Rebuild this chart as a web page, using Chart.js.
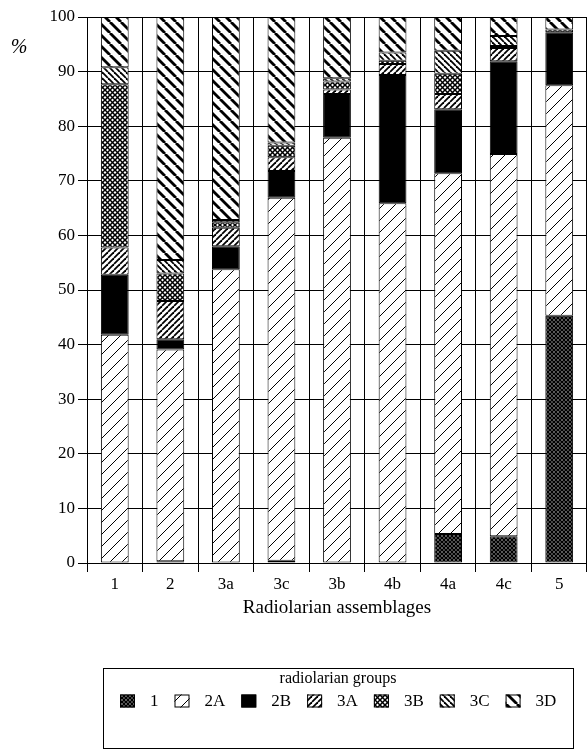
<!DOCTYPE html>
<html>
<head>
<meta charset="utf-8">
<title>Radiolarian assemblages</title>
<script src="https://cdn.jsdelivr.net/npm/chart.js@4.4.1/dist/chart.umd.min.js"></script>
<style>
    html, body { margin: 0; padding: 0; background: #fff; }
    #wrap { width: 587px; height: 750px; }
</style>
</head>
<body>
<div id="wrap"><canvas id="radio-chart"></canvas></div>
<script>
// assemblages along the x axis
const assemblages = ['1', '2', '3a', '3c', '3b', '4b', '4a', '4c', '5'];

// percentage of each radiolarian group per assemblage
const group1  = [0, 0.3, 0, 0.4, 0, 0, 5.3, 4.9, 45.3];
const group2A = [41.8, 38.8, 53.8, 66.5, 77.9, 65.9, 66.1, 70.0, 42.2];
const group2B = [11.0, 1.9, 4.2, 4.9, 8.0, 23.5, 11.7, 17.0, 9.7];
const group3A = [5.0, 7.0, 3.4, 2.5, 0.8, 2.0, 2.8, 2.4, 0];
const group3B = [29.9, 5.0, 1.0, 2.1, 1.5, 0.6, 3.7, 0.4, 0.5];
const group3C = [3.1, 2.5, 0.4, 0.6, 0.6, 1.5, 4.2, 1.8, 0];
const group3D = [9.2, 44.5, 37.2, 23.0, 11.2, 6.5, 6.2, 3.5, 2.3];

const yMin = 0;
const yMax = 100;
const yStep = 10;

const SERIF = '"Liberation Serif", "Times New Roman", serif';

const makeTile = (size, draw) => {
    const c = document.createElement('canvas');
    c.width = size;
    c.height = size;
    const g = c.getContext('2d');
    g.fillStyle = '#fff';
    g.fillRect(0, 0, size, size);
    g.strokeStyle = '#000';
    draw(g, size);
    return c;
};

const drawDiag = (g, s, dir) => {
    for (let k = -1; k <= 1; k++) {
        g.beginPath();
        if (dir === '/') {
            g.moveTo(k * s, s);
            g.lineTo(k * s + s, 0);
        } else {
            g.moveTo(k * s, 0);
            g.lineTo(k * s + s, s);
        }
        g.stroke();
    }
};

const patternCtx = document.createElement('canvas').getContext('2d');

const hatch = (size, width, dir) => patternCtx.createPattern(makeTile(size, (g, s) => {
    g.lineWidth = width;
    drawDiag(g, s, dir);
}), 'repeat');

const crossHatch = (size, width) => patternCtx.createPattern(makeTile(size, (g, s) => {
    g.lineWidth = width;
    drawDiag(g, s, '/');
    drawDiag(g, s, '\\');
}), 'repeat');

const fills = {
    g1: crossHatch(4, 1.6),
    g2A: hatch(12, 1, '/'),
    g2B: '#000',
    g3A: hatch(6, 1.8, '/'),
    g3B: crossHatch(5, 1.5),
    g3C: hatch(6, 1.8, '\\'),
    g3D: hatch(11, 2.8, '\\'),
};

const makeSet = (label, data, fill) => ({
    label,
    data,
    backgroundColor: fill,
    borderColor: '#000',
    borderWidth: 1,
    borderSkipped: false,
    barPercentage: 0.5,
    categoryPercentage: 1,
});

// legend box + the "%" mark, drawn after the chart
const legendBox = {
    id: 'legendBox',
    afterDraw(chart) {
        const { ctx } = chart;
        const box = { left: 103, top: 668, right: 573, bottom: 748 };
        const cx = (box.left + box.right) / 2;

        ctx.save();
        ctx.strokeStyle = '#000';
        ctx.lineWidth = 1;
        ctx.strokeRect(box.left + 0.5, box.top + 0.5, box.right - box.left, box.bottom - box.top);

        ctx.fillStyle = '#000';
        ctx.textBaseline = 'middle';
        ctx.textAlign = 'center';
        ctx.font = `16px ${SERIF}`;
        ctx.fillText('radiolarian groups', cx, 679);

        ctx.font = `17px ${SERIF}`;
        const sw = 15;
        const sh = 13;
        const gapText = 15;
        const gapItem = 16;
        const items = chart.data.datasets.map((ds) => ({
            label: ds.label,
            fill: ds.backgroundColor,
            w: ctx.measureText(ds.label).width,
        }));
        const total = items.reduce((s, it) => s + sw + gapText + it.w, 0) + gapItem * (items.length - 1);
        let x = Math.round(cx - total / 2);
        const y = 701;
        ctx.textAlign = 'left';
        for (const it of items) {
            ctx.fillStyle = it.fill;
            ctx.fillRect(x, y - sh / 2, sw, sh);
            ctx.strokeRect(x + 0.5, y - sh / 2 + 0.5, sw - 1, sh - 1);
            ctx.fillStyle = '#000';
            ctx.fillText(it.label, x + sw + gapText, y + 1);
            x += sw + gapText + it.w + gapItem;
        }

        ctx.textAlign = 'center';
        ctx.font = `italic 20px ${SERIF}`;
        ctx.fillText('%', 19, 48);
        ctx.restore();
    },
};

const canvas = document.getElementById('radio-chart');

new Chart(canvas.getContext('2d'), {
    type: 'bar',
    data: {
        labels: assemblages,
        datasets: [
            makeSet('1', group1, fills.g1),
            makeSet('2A', group2A, fills.g2A),
            makeSet('2B', group2B, fills.g2B),
            makeSet('3A', group3A, fills.g3A),
            makeSet('3B', group3B, fills.g3B),
            makeSet('3C', group3C, fills.g3C),
            makeSet('3D', group3D, fills.g3D),
        ],
    },
    options: {
        responsive: true,
        maintainAspectRatio: false,
        animation: false,
        layout: { padding: { top: 17, right: 0, bottom: 129, left: 0 } },
        scales: {
            x: {
                stacked: true,
                grid: { color: '#000', lineWidth: 1, tickLength: 9, offset: true },
                border: { color: '#000', width: 1 },
                ticks: { color: '#000', padding: 2, font: { family: SERIF, size: 17 } },
                title: {
                    display: true,
                    text: 'Radiolarian assemblages',
                    color: '#000',
                    font: { family: SERIF, size: 19 },
                    padding: { top: 0, bottom: 2 },
                },
                afterFit: (scale) => { scale.height = 58; },
            },
            y: {
                stacked: true,
                min: yMin,
                max: yMax,
                grid: { color: '#000', lineWidth: 1, tickLength: 9 },
                border: { color: '#000', width: 1 },
                ticks: { stepSize: yStep, color: '#000', padding: 3, font: { family: SERIF, size: 17 } },
                afterFit: (scale) => { scale.width = 87; },
            },
        },
        plugins: {
            legend: { display: false },
            tooltip: { enabled: false },
        },
    },
    plugins: [legendBox],
});
</script>
</body>
</html>
